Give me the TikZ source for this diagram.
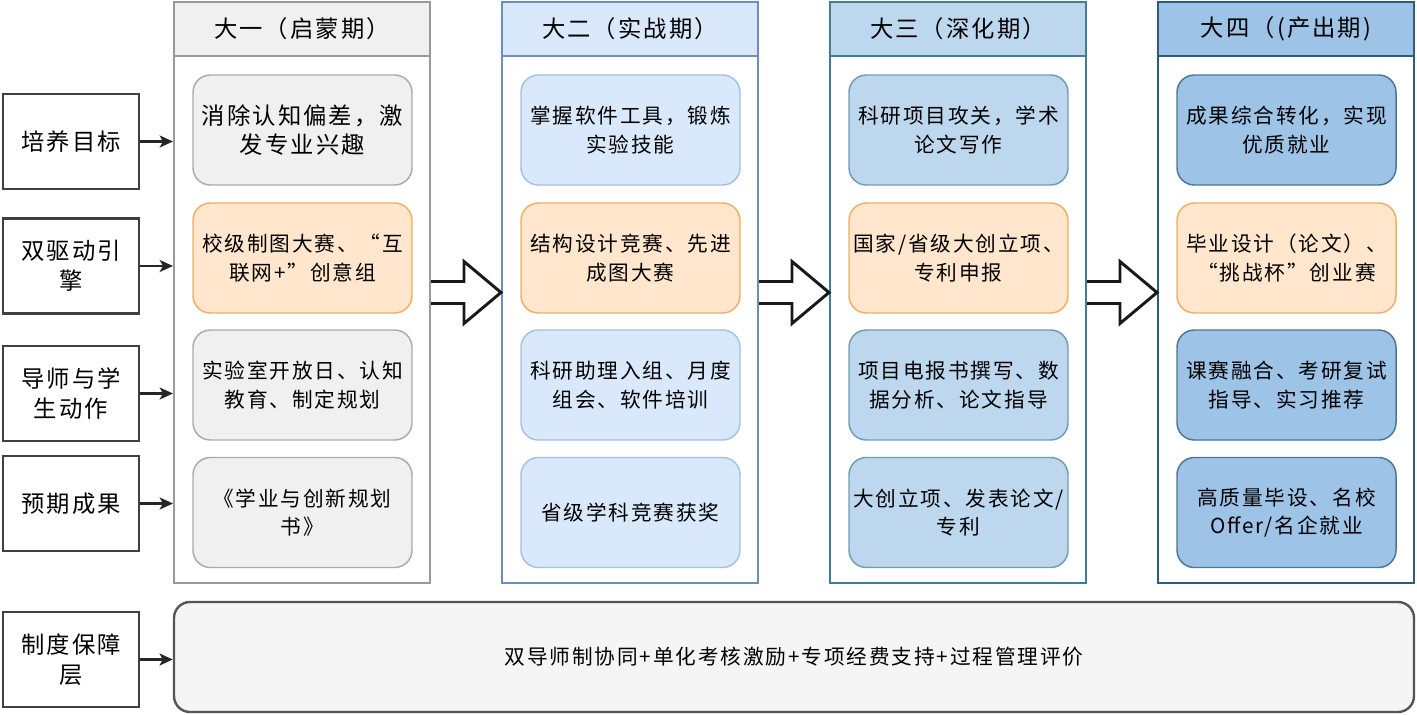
\documentclass[tikz,border=0pt]{standalone}
\usepackage{fontspec}
\setmainfont{Noto Sans CJK SC}
\newfontfamily\cjk{Noto Sans CJK SC}[LetterSpace=9]
\usetikzlibrary{arrows.meta,calc}
\definecolor{g1fill}{HTML}{F0F0F0}
\definecolor{g1draw}{HTML}{ABABAB}
\definecolor{c1border}{HTML}{999999}
\definecolor{ofill}{HTML}{FFE6CC}
\definecolor{odraw}{HTML}{F2AE62}
\definecolor{b2fill}{HTML}{DAE8FC}
\definecolor{b2draw}{HTML}{A4C0E4}
\definecolor{c2border}{HTML}{6C8EBF}
\definecolor{b3fill}{HTML}{BDD7EE}
\definecolor{b3draw}{HTML}{6F9DB5}
\definecolor{c3border}{HTML}{3E7E96}
\definecolor{b4fill}{HTML}{9DC3E6}
\definecolor{b4draw}{HTML}{4A7896}
\definecolor{c4border}{HTML}{2E5D78}
\definecolor{labdraw}{HTML}{404040}
\definecolor{botfill}{HTML}{F5F5F5}
\definecolor{botdraw}{HTML}{555555}
\newcommand\ibfont{\cjk\fontsize{15.5}{21.5}\selectfont}
\newcommand\bigibfont{\cjk\fontsize{17.5}{22}\selectfont}
\newcommand\hdrfont{\cjk\fontsize{17.5}{20}\selectfont}
\newcommand\labfont{\cjk\fontsize{17.5}{22.5}\selectfont}
\begin{document}
\begin{tikzpicture}[x=0.75pt,y=-0.75pt,
  col/.style={draw, fill=white, line width=1.5pt, minimum width=192pt, minimum height=435.75pt, inner sep=0pt},
  hdr/.style={draw, line width=1.5pt, minimum width=192pt, minimum height=40.5pt, inner sep=0pt, font=\hdrfont},
  ib/.style={draw, rounded corners=13pt, line width=1.1pt, minimum width=164.25pt, minimum height=82.5pt, inner sep=2pt, align=center, font=\ibfont},
  gb/.style={ib, fill=g1fill, draw=g1draw},
  ob/.style={ib, fill=ofill, draw=odraw},
  bb2/.style={ib, fill=b2fill, draw=b2draw},
  bb3/.style={ib, fill=b3fill, draw=b3draw},
  bb4/.style={ib, fill=b4fill, draw=b4draw},
  lab/.style={draw=labdraw, fill=white, line width=1.8pt, minimum width=102pt, minimum height=71.25pt, inner sep=1pt, align=center, font=\labfont},
  sarrow/.style={draw=black!85, line width=1.6pt, arrows={-Stealth[length=10pt,width=9pt,inset=2.5pt]}},
  bigarrow/.style={draw=black!90, line width=2.2pt, line join=miter}
]
\useasboundingbox (0,0) rectangle (1417,714);

% columns
\node[col, draw=c1border] (c1) at (302,292.5) {};
\node[col, draw=c2border] (c2) at (630,292.5) {};
\node[col, draw=c3border] (c3) at (958,292.5) {};
\node[col, draw=c4border] (c4) at (1286,292.5) {};

% headers
\node[hdr, draw=c1border, fill=g1fill] (h1) at (302,29) {大一（启蒙期）};
\node[hdr, draw=c2border, fill=b2fill] (h2) at (630,29) {大二（实战期）};
\node[hdr, draw=c3border, fill=b3fill] (h3) at (958,29) {大三（深化期）};
\node[hdr, draw=c4border, fill=b4fill] (h4) at (1286,29) {大四（(产出期)};

% column 1
\node[gb, font=\bigibfont] (a1) at (302.5,130) {消除认知偏差，激\\发专业兴趣};
\node[ob] (a2) at (302.5,258) {校级制图大赛、“互\\联网+”创意组};
\node[gb] (a3) at (302.5,385) {实验室开放日、认知\\教育、制定规划};
\node[gb] (a4) at (302.5,512.5) {《学业与创新规划\\书》};

% column 2
\node[bb2] (b1) at (630.5,130) {掌握软件工具，锻炼\\实验技能};
\node[ob] (b2) at (630.5,258) {结构设计竞赛、先进\\成图大赛};
\node[bb2] (b3) at (630.5,385) {科研助理入组、月度\\组会、软件培训};
\node[bb2] (b4) at (630.5,512.5) {省级学科竞赛获奖};

% column 3
\node[bb3] (d1) at (958.5,130) {科研项目攻关，学术\\论文写作};
\node[ob] (d2) at (958.5,258) {国家/省级大创立项、\\专利申报};
\node[bb3] (d3) at (958.5,385) {项目电报书撰写、数\\据分析、论文指导};
\node[bb3] (d4) at (958.5,512.5) {大创立项、发表论文/\\专利};

% column 4
\node[bb4] (e1) at (1286.5,130) {成果综合转化，实现\\优质就业};
\node[ob] (e2) at (1286.5,258) {毕业设计（论文）、\\“挑战杯”创业赛};
\node[bb4] (e3) at (1286.5,385) {课赛融合、考研复试\\指导、实习推荐};
\node[bb4] (e4) at (1286.5,512.5) {高质量毕设、名校\\Offer/名企就业};

% labels
\node[lab] (l1) at (71,141.5) {培养目标};
\node[lab] (l2) at (71,266) {双驱动引\\擎};
\node[lab] (l3) at (71,393.5) {导师与学\\生动作};
\node[lab] (l4) at (71,503.5) {预期成果};
\node[lab] (l5) at (71,659.5) {制度保障\\层};

% bottom layer
\node[draw=botdraw, fill=botfill, line width=1.8pt, rounded corners=12pt, minimum width=930pt, minimum height=82.5pt, font=\ibfont] (bot) at (794,657) {双导师制协同+单化考核激励+专项经费支持+过程管理评价};

% small arrows
\draw[sarrow] (l1.east) -- (l1.east -| c1.west);
\draw[sarrow] (l2.east) -- (l2.east -| c1.west);
\draw[sarrow] (l3.east) -- (l3.east -| c1.west);
\draw[sarrow] (l4.east) -- (l4.east -| c1.west);
\draw[sarrow] (l5.east) -- (l5.east -| bot.west);

% big arrows
\draw[bigarrow] ($(c1.east)+(0,-11)$) -- ($(c1.east)+(33,-11)$) -- ($(c1.east)+(33,-31)$) -- (c2.west) -- ($(c1.east)+(33,31)$) -- ($(c1.east)+(33,11)$) -- ($(c1.east)+(0,11)$);
\draw[bigarrow] ($(c2.east)+(0,-11)$) -- ($(c2.east)+(33,-11)$) -- ($(c2.east)+(33,-31)$) -- (c3.west) -- ($(c2.east)+(33,31)$) -- ($(c2.east)+(33,11)$) -- ($(c2.east)+(0,11)$);
\draw[bigarrow] ($(c3.east)+(0,-11)$) -- ($(c3.east)+(33,-11)$) -- ($(c3.east)+(33,-31)$) -- (c4.west) -- ($(c3.east)+(33,31)$) -- ($(c3.east)+(33,11)$) -- ($(c3.east)+(0,11)$);
\end{tikzpicture}
\end{document}
